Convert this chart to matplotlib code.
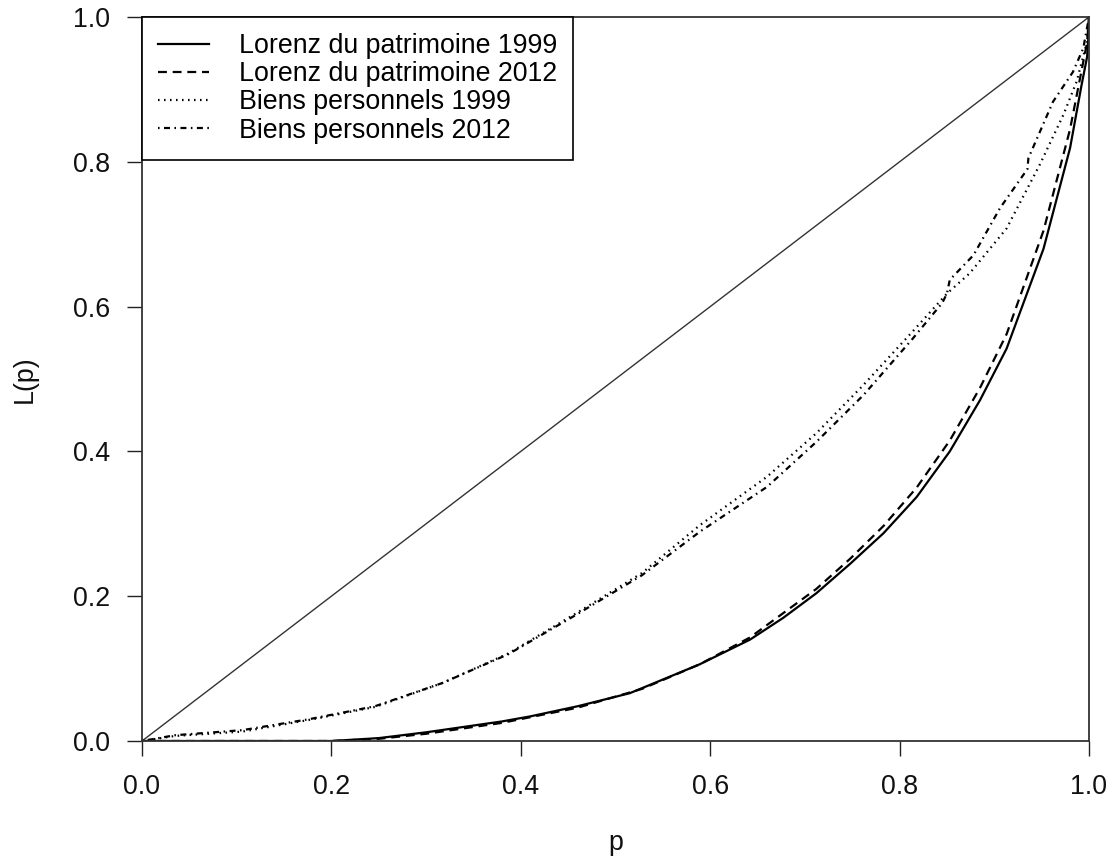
import matplotlib
matplotlib.use("Agg")
import matplotlib.pyplot as plt

plt.rcParams['font.family'] = ['Liberation Sans', 'DejaVu Sans']

# Lorenz du patrimoine 1999 (solid)
p_pat99 = [0.0, 0.10, 0.20, 0.25, 0.30, 0.38, 0.41, 0.46, 0.515, 0.528, 0.589, 0.642, 0.677,
           0.712, 0.748, 0.783, 0.818, 0.853, 0.885, 0.913, 0.952, 0.980, 0.992, 0.998, 0.9995, 1.0]
L_pat99 = [0.0, 0.0, 0.0, 0.004, 0.012, 0.027, 0.034, 0.048, 0.066, 0.073, 0.106, 0.140, 0.170,
           0.204, 0.245, 0.287, 0.337, 0.400, 0.471, 0.542, 0.680, 0.819, 0.905, 0.945, 0.975, 1.0]

# Lorenz du patrimoine 2012 (dashed)
p_pat12 = [0.0, 0.10, 0.20, 0.25, 0.30, 0.38, 0.46, 0.528, 0.589, 0.642, 0.712, 0.748, 0.783,
           0.818, 0.853, 0.885, 0.913, 0.952, 0.980, 0.992, 0.998, 1.0]
L_pat12 = [0.0, 0.0, 0.0, 0.003, 0.010, 0.025, 0.046, 0.072, 0.106, 0.143, 0.210, 0.252, 0.297,
           0.350, 0.415, 0.488, 0.562, 0.705, 0.845, 0.925, 0.965, 1.0]

# Biens personnels 1999 (dotted)
p_bp99 = [0.0, 0.035, 0.106, 0.176, 0.246, 0.317, 0.387, 0.458, 0.528, 0.589, 0.660, 0.712,
          0.762, 0.814, 0.850, 0.874, 0.913, 0.948, 0.973, 0.987, 0.998, 1.0]
L_bp99 = [0.0, 0.007, 0.013, 0.029, 0.047, 0.080, 0.121, 0.176, 0.232, 0.298, 0.365, 0.425,
          0.492, 0.566, 0.618, 0.646, 0.708, 0.796, 0.865, 0.911, 0.966, 1.0]

# Biens personnels 2012 (dash-dot)
p_bp12 = [0.0, 0.035, 0.106, 0.176, 0.246, 0.317, 0.387, 0.458, 0.528, 0.589, 0.660, 0.712,
          0.762, 0.814, 0.845, 0.850, 0.853, 0.878, 0.906, 0.935, 0.936, 0.962, 0.983, 0.994, 1.0]
L_bp12 = [0.0, 0.008, 0.015, 0.030, 0.048, 0.080, 0.120, 0.174, 0.229, 0.289, 0.351, 0.413,
          0.478, 0.556, 0.605, 0.618, 0.637, 0.671, 0.736, 0.790, 0.805, 0.883, 0.924, 0.957, 1.0]

diag = [0.0, 1.0]

labels = ["Lorenz du patrimoine 1999", "Lorenz du patrimoine 2012",
          "Biens personnels 1999", "Biens personnels 2012"]
ticks = [0.0, 0.2, 0.4, 0.6, 0.8, 1.0]
tick_labels = ["0.0", "0.2", "0.4", "0.6", "0.8", "1.0"]

FS = 19.3

fig = plt.figure(figsize=(11.11, 8.60), dpi=100)
ax = fig.add_axes([142/1111, 1 - 741/860, (1089-142)/1111, (741-17)/860])

ax.plot(diag, diag, color='#333333', lw=1.0)
l1, = ax.plot(p_pat99, L_pat99, color='black', lw=1.6, linestyle='-')
l2, = ax.plot(p_pat12, L_pat12, color='black', lw=1.6, linestyle=(0, (4, 2.6)))
l3, = ax.plot(p_bp99, L_bp99, color='black', lw=1.6, linestyle=(0, (0.7, 2.0)))
l4, = ax.plot(p_bp12, L_bp12, color='black', lw=1.6, linestyle=(0, (0.7, 2.0, 2.7, 2.0)))

ax.set_xlim(0, 1)
ax.set_ylim(0, 1)
ax.set_xticks(ticks)
ax.set_xticklabels(tick_labels)
ax.set_yticks(ticks)
ax.set_yticklabels(tick_labels)
ax.tick_params(axis='both', direction='out', length=11, width=1.0, labelsize=FS,
               color='#222222', labelcolor='#111111')
ax.tick_params(axis='x', pad=13)
ax.tick_params(axis='y', pad=12)
for s in ax.spines.values():
    s.set_linewidth(1.3)
    s.set_color('#333333')

ax.set_xlabel("p", fontsize=FS, labelpad=21, color='#111111')
ax.set_ylabel("L(p)", fontsize=FS, labelpad=25, color='#111111')

leg = ax.legend([l1, l2, l3, l4], labels, loc='upper left', bbox_to_anchor=(0, 1),
                borderaxespad=0, fontsize=FS, frameon=True, fancybox=False,
                edgecolor='black', framealpha=1, handlelength=1.9, handletextpad=1.12,
                labelspacing=0.08, borderpad=0.6)
leg.get_frame().set_linewidth(1.2)

fig.savefig("out.png", dpi=100)
